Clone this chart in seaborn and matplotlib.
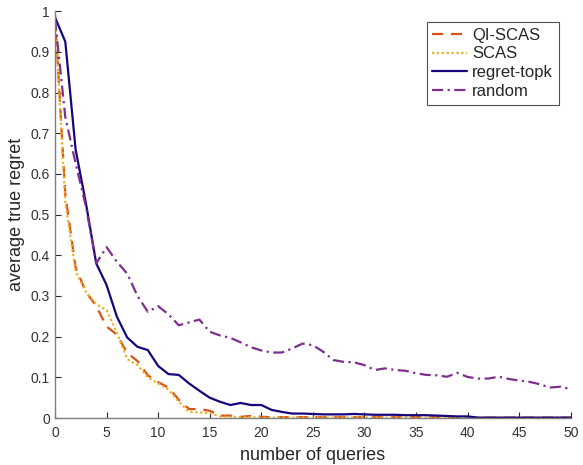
import matplotlib
matplotlib.use("Agg")
import matplotlib.pyplot as plt
import seaborn as sns
import numpy as np
import pandas as pd

queries = list(range(51))

qi_scas = [0.99, 0.55, 0.37, 0.31, 0.275, 0.225, 0.205, 0.16, 0.14, 0.105, 0.088,
           0.075, 0.045, 0.022, 0.022, 0.018, 0.006, 0.006, 0.003, 0.005, 0.003,
           0.002, 0.002, 0.002, 0.002, 0.002, 0.002, 0.002, 0.002, 0.002, 0.002,
           0.002, 0.002, 0.002, 0.002, 0.002, 0.002, 0.002, 0.002, 0.002, 0.002,
           0.001, 0.001, 0.001, 0.001, 0.001, 0.001, 0.001, 0.001, 0.001, 0.001]
scas = [0.99, 0.53, 0.36, 0.31, 0.28, 0.265, 0.21, 0.145, 0.13, 0.10, 0.085,
        0.07, 0.04, 0.015, 0.014, 0.012, 0.004, 0.003, 0.002, 0.002, 0.001,
        0.001, 0.001, 0.001, 0.001, 0.001, 0.001, 0.001, 0.001, 0.001, 0.001,
        0.001, 0.001, 0.001, 0.001, 0.001, 0.001, 0.001, 0.001, 0.001, 0.001,
        0.001, 0.001, 0.001, 0.001, 0.001, 0.001, 0.001, 0.001, 0.001, 0.001]
regret_topk = [0.985, 0.925, 0.66, 0.528, 0.38, 0.327, 0.249, 0.198, 0.175, 0.167, 0.128,
               0.108, 0.106, 0.085, 0.067, 0.05, 0.04, 0.032, 0.037, 0.032, 0.032,
               0.02, 0.015, 0.011, 0.011, 0.01, 0.009, 0.009, 0.009, 0.01, 0.009,
               0.008, 0.008, 0.008, 0.007, 0.007, 0.007, 0.006, 0.005, 0.004, 0.004,
               0.001, 0.001, 0.001, 0.001, 0.001, 0.001, 0.001, 0.001, 0.001, 0.001]
random_q = [0.98, 0.74, 0.626, 0.52, 0.38, 0.42, 0.384, 0.355, 0.30, 0.261, 0.275,
            0.255, 0.228, 0.235, 0.242, 0.212, 0.203, 0.197, 0.186, 0.174, 0.166,
            0.161, 0.161, 0.171, 0.183, 0.179, 0.163, 0.1425, 0.138, 0.137, 0.13,
            0.118, 0.122, 0.118, 0.116, 0.11, 0.106, 0.105, 0.1015, 0.111, 0.101,
            0.097, 0.097, 0.1015, 0.096, 0.092, 0.089, 0.083, 0.075, 0.077, 0.071]

names = ["QI-SCAS", "SCAS", "regret-topk", "random"]
series = [qi_scas, scas, regret_topk, random_q]
colors = ["#D95319", "#EDB120", "#15067F", "#7E2F8E"]
styles = [(0, (5, 3.5)), (0, (1, 1.2)), "-", (0, (5, 2, 1, 2))]

df = pd.DataFrame({"x": queries * 4,
                   "y": sum(series, []),
                   "method": sum([[n] * len(queries) for n in names], [])})

sns.set_style("white")
plt.rcParams["font.family"] = ["Liberation Sans", "DejaVu Sans"]

fig = plt.figure(figsize=(5.83, 4.65), dpi=100)
ax = fig.add_axes([0.0943, 0.101, 0.8847, 0.875])

for name, col, ls in zip(names, colors, styles):
    sub = df[df["method"] == name]
    sns.lineplot(data=sub, x="x", y="y", ax=ax, color=col, linestyle=ls,
                 linewidth=1.6, label=name)

ax.set_xlim(0, 50)
ax.set_ylim(0, 1)
ax.set_xticks(range(0, 51, 5))
ax.set_yticks(np.arange(0, 1.01, 0.1))
ax.set_yticklabels(["0", "0.1", "0.2", "0.3", "0.4", "0.5", "0.6", "0.7", "0.8", "0.9", "1"])
ax.tick_params(direction="in", length=4, width=0.8, colors="#262626", labelsize=10,
               labelcolor="#333333", bottom=True, left=True)
ax.tick_params(axis="x", pad=6)
for s in ["top", "right"]:
    ax.spines[s].set_visible(False)
for s in ["left", "bottom"]:
    ax.spines[s].set_color("#7f7f7f")
    ax.spines[s].set_linewidth(1.0)

ax.set_xlabel("number of queries", fontsize=13, color="#262626", labelpad=5)
ax.set_ylabel("average true regret", fontsize=13, color="#262626", labelpad=4)

leg = ax.legend(loc="upper right", bbox_to_anchor=(0.987, 0.986), fontsize=12,
                frameon=True, fancybox=False, handlelength=2.1, handletextpad=0.3,
                borderpad=0.35, labelspacing=0.22, borderaxespad=0.3)
leg.get_frame().set_edgecolor("#262626")
leg.get_frame().set_linewidth(0.8)

fig.savefig("out.png", dpi=100)
